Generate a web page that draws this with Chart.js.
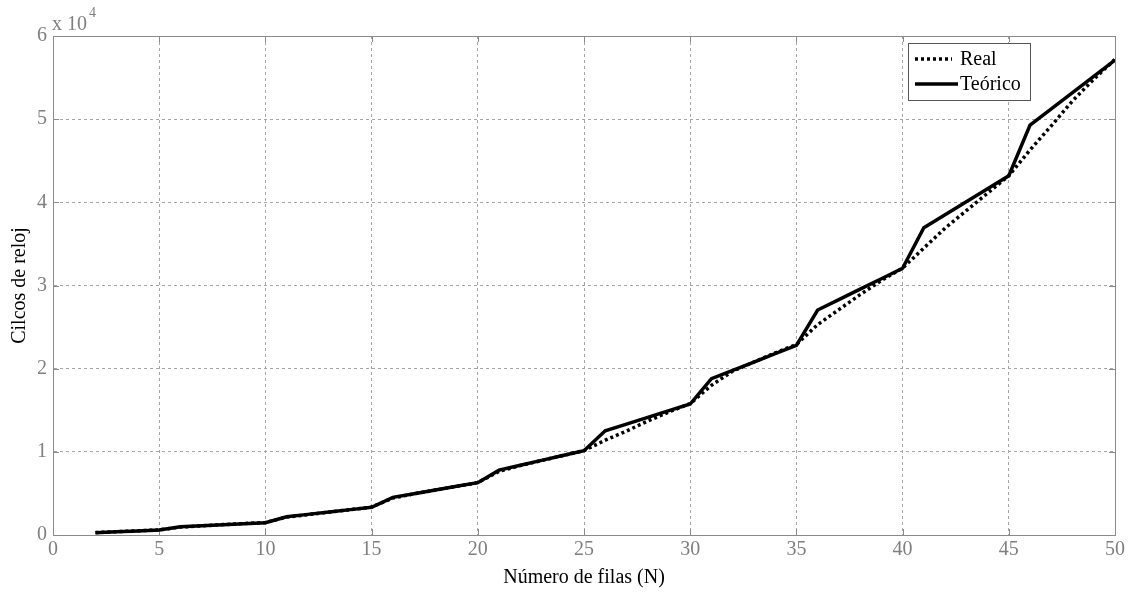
<!DOCTYPE html>
<html>
<head>
<meta charset="utf-8">
<script src="https://cdn.jsdelivr.net/npm/chart.js@4.4.0/dist/chart.umd.min.js"></script>
<style>
  html, body { margin: 0; padding: 0; background: #fff; }
  #plot { display: block; }
</style>
</head>
<body>
<canvas id="plot" width="1139" height="593"></canvas>
<script>
// number of rows N
const filas = [2, 3, 4, 5, 6, 7, 8, 9, 10, 11, 12, 13, 14, 15, 16, 17, 18, 19, 20,
  21, 22, 23, 24, 25, 26, 27, 28, 29, 30, 31, 32, 33, 34, 35, 36, 37, 38, 39, 40,
  41, 42, 43, 44, 45, 46, 47, 48, 49, 50];

// measured clock cycles
const ciclosReal = [300, 400, 500, 620, 950, 1100, 1250, 1380, 1500, 2150, 2450, 2750, 3050, 3350,
  4450, 4950, 5400, 5850, 6300, 7650, 8350, 8950, 9550, 10150, 11400, 12500, 13700, 14800, 15800,
  18000, 19700, 20800, 21900, 22900, 25300, 27100, 28900, 30600, 32100, 34500, 36900, 39000, 41100,
  43200, 46300, 49200, 52200, 54800, 57200];

// theoretical clock cycles
const ciclosTeorico = [280, 380, 480, 600, 1000, 1120, 1240, 1360, 1480, 2200, 2480, 2760, 3050, 3330,
  4530, 4970, 5410, 5850, 6290, 7800, 8390, 8970, 9560, 10140, 12540, 13340, 14150, 14950, 15750,
  18790, 19790, 20800, 21800, 22800, 27050, 28300, 29560, 30810, 32070, 36950, 38510, 40080, 41640,
  43200, 49300, 51250, 53200, 55150, 57100];

const xTicks = [0, 5, 10, 15, 20, 25, 30, 35, 40, 45, 50];
const yTicks = [0, 10000, 20000, 30000, 40000, 50000, 60000];

const serif = "'Liberation Serif', 'DejaVu Serif', serif";
const grayText = '#7f7f7f';
const axisGray = '#8a8a8a';

// MATLAB style frame, inner tick marks, exponent label and boxed legend
const matlabLook = {
  id: 'matlabLook',
  beforeDatasetsDraw(chart) {
    const { ctx, chartArea: a, scales: { x, y } } = chart;
    ctx.save();
    ctx.strokeStyle = axisGray;
    ctx.lineWidth = 1;
    ctx.strokeRect(a.left + 0.5, a.top + 0.5, a.right - a.left, a.bottom - a.top);
    ctx.beginPath();
    xTicks.forEach(t => {
      const px = Math.round(x.getPixelForValue(t)) + 0.5;
      ctx.moveTo(px, a.bottom); ctx.lineTo(px, a.bottom - 6);
      ctx.moveTo(px, a.top); ctx.lineTo(px, a.top + 6);
    });
    yTicks.forEach(t => {
      const py = Math.round(y.getPixelForValue(t)) + 0.5;
      ctx.moveTo(a.left, py); ctx.lineTo(a.left + 6, py);
      ctx.moveTo(a.right, py); ctx.lineTo(a.right - 6, py);
    });
    ctx.stroke();

    ctx.fillStyle = grayText;
    ctx.textBaseline = 'alphabetic';
    ctx.font = '20px ' + serif;
    ctx.fillText('x 10', a.left - 1, a.top - 6);
    const w = ctx.measureText('x 10').width;
    ctx.font = '14px ' + serif;
    ctx.fillText('4', a.left + w + 1, a.top - 19);
    ctx.restore();
  },
  afterDraw(chart) {
    const { ctx, chartArea: a } = chart;
    const bx = a.right - 207, by = a.top + 7, bw = 122, bh = 57;
    ctx.save();
    ctx.fillStyle = '#fff';
    ctx.fillRect(bx, by, bw, bh);
    ctx.strokeStyle = '#555';
    ctx.lineWidth = 1;
    ctx.strokeRect(bx + 0.5, by + 0.5, bw, bh);
    ctx.font = '20px ' + serif;
    ctx.textBaseline = 'middle';
    chart.data.datasets.forEach((ds, i) => {
      const ly = by + 16 + i * 25;
      ctx.strokeStyle = ds.borderColor;
      ctx.lineWidth = ds.borderWidth;
      ctx.setLineDash(ds.borderDash || []);
      ctx.beginPath();
      ctx.moveTo(bx + 7, ly);
      ctx.lineTo(bx + (ds.borderDash ? 44 : 50), ly);
      ctx.stroke();
      ctx.setLineDash([]);
      ctx.fillStyle = '#000';
      ctx.fillText(ds.label, bx + 52, ly + 1);
    });
    ctx.restore();
  }
};

const ctx = document.getElementById('plot').getContext('2d');
new Chart(ctx, {
  type: 'line',
  data: {
    datasets: [
      {
        label: 'Real',
        data: filas.map((n, i) => ({ x: n, y: ciclosReal[i] })),
        borderColor: '#000',
        borderWidth: 3.5,
        borderDash: [3, 3],
        pointRadius: 0,
        tension: 0
      },
      {
        label: 'Teórico',
        data: filas.map((n, i) => ({ x: n, y: ciclosTeorico[i] })),
        borderColor: '#000',
        borderWidth: 3.5,
        pointRadius: 0,
        tension: 0
      }
    ]
  },
  options: {
    responsive: false,
    animation: false,
    layout: { padding: { top: 36, right: 24, left: 0, bottom: 0 } },
    plugins: {
      legend: { display: false },
      tooltip: { enabled: false }
    },
    scales: {
      x: {
        type: 'linear',
        min: 0,
        max: 50,
        afterFit(scale) { scale.height = 58; },
        afterBuildTicks(scale) { scale.ticks = xTicks.map(v => ({ value: v })); },
        ticks: { color: grayText, font: { family: serif, size: 20 }, padding: 3, maxRotation: 0 },
        grid: { color: '#a6a6a6', drawTicks: false },
        border: { color: axisGray, dash: [3, 3] },
        title: {
          display: true,
          text: 'Número de filas (N)',
          color: '#000',
          font: { family: serif, size: 20 },
          padding: { top: 0, bottom: 3 }
        }
      },
      y: {
        min: 0,
        max: 60000,
        afterFit(scale) { scale.width = 53; },
        afterBuildTicks(scale) { scale.ticks = yTicks.map(v => ({ value: v })); },
        ticks: {
          color: grayText,
          font: { family: serif, size: 20 },
          padding: 6,
          callback: v => String(v / 10000)
        },
        grid: { color: '#a6a6a6', drawTicks: false },
        border: { color: axisGray, dash: [3, 3] },
        title: {
          display: true,
          text: 'Cilcos de reloj',
          color: '#000',
          font: { family: serif, size: 20 },
          padding: { top: 8, bottom: 0 }
        }
      }
    }
  },
  plugins: [matlabLook]
});
</script>
</body>
</html>
